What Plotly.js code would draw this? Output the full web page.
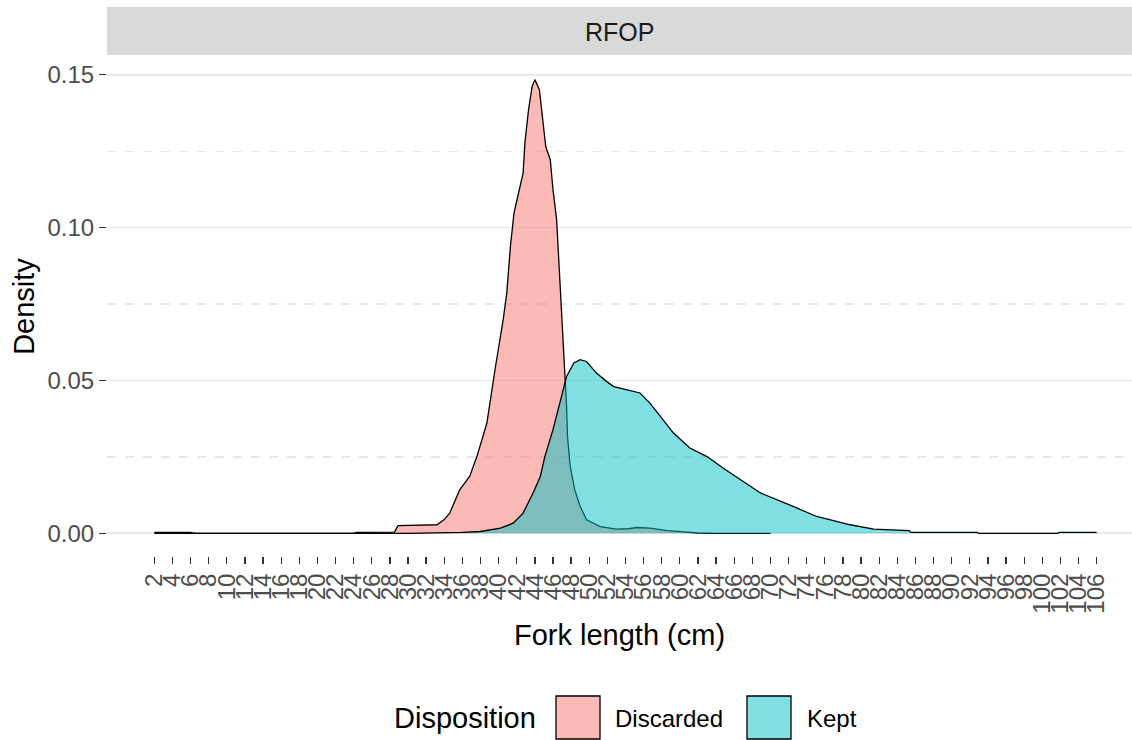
<!DOCTYPE html>
<html>
<head>
<meta charset="utf-8">
<script src="https://cdn.plot.ly/plotly-3.0.1.min.js"></script>
<style>
  html, body { margin: 0; padding: 0; background: #ffffff; overflow: hidden; }
  #chart { width: 1132px; height: 740px; }
</style>
</head>
<body>
<div id="chart"></div>
<script>
// ---- Data ----
const panelLabel = "RFOP";
const seriesNames = ["Discarded", "Kept"];

const discardedX = [2, 6, 6.5, 24, 24.3, 28.5, 28.9, 31, 33.2, 34.0, 34.6, 35.7, 36.8, 37.6, 38.7, 39.6, 40.5, 40.9, 41.3, 41.7, 42.2, 42.7, 42.9, 43.3, 43.7, 44.0, 44.5, 44.8, 45.2, 45.7, 46.0, 46.4, 46.6, 46.8, 47.0, 47.2, 47.3, 47.5, 47.6, 47.9, 48.4, 49.0, 49.7, 51.2, 53.0, 54.3, 55.3, 56.7, 58.6, 60.8, 62, 64, 70];
const discardedY = [0.0003, 0.0003, 0.0, 0.0, 0.0003, 0.0004, 0.0025, 0.0026, 0.0028, 0.0045, 0.0066, 0.0142, 0.0186, 0.0251, 0.036, 0.0535, 0.0698, 0.0786, 0.0938, 0.1048, 0.1118, 0.1178, 0.1277, 0.1385, 0.1462, 0.1484, 0.1451, 0.1364, 0.1265, 0.1222, 0.1124, 0.1026, 0.0917, 0.0807, 0.0698, 0.0568, 0.0502, 0.0415, 0.0317, 0.0219, 0.0142, 0.0088, 0.0044, 0.0022, 0.0014, 0.0015, 0.0019, 0.0017, 0.0009, 0.0003, 0.0001, 0.0, 0.0];

const keptX = [2, 30, 36, 38, 40.2, 41.6, 42.7, 43.8, 44.6, 45.1, 46.0, 46.8, 47.5, 48.3, 49.0, 49.7, 50.8, 51.9, 52.7, 54.2, 55.6, 56.7, 58.2, 59.3, 61.1, 63.0, 64.8, 66.7, 68.9, 72.5, 75.1, 78.8, 81.4, 85.3, 85.5, 92.8, 93.0, 101.7, 101.9, 106];
const keptY = [0.0, 0.0, 0.0003, 0.0006, 0.0017, 0.0033, 0.0066, 0.0132, 0.0186, 0.0251, 0.0339, 0.0437, 0.0513, 0.0557, 0.0568, 0.0562, 0.0524, 0.0497, 0.048, 0.0469, 0.0459, 0.0426, 0.0371, 0.0328, 0.0279, 0.0251, 0.0213, 0.0175, 0.0132, 0.0088, 0.0055, 0.0028, 0.0014, 0.0009, 0.0003, 0.0003, 0.0, 0.0, 0.0003, 0.0003];

const xTickVals = [];
for (let v = 2; v <= 106; v += 2) xTickVals.push(v);
const xTickText = xTickVals.map(String);
const yTickVals = [0, 0.05, 0.10, 0.15];
const yTickText = ["0.00", "0.05", "0.10", "0.15"];
const yMinorVals = [0.025, 0.075, 0.125];

// ---- Styles ----
const FONT = "Liberation Sans, Arial, Helvetica, sans-serif";
const fills = ["rgba(248,118,109,0.5)", "rgba(0,191,196,0.5)"];

// Plot area geometry (pixels)
const W = 1132, H = 740;
const L = 107, R = 1132, T = 57, B = 556;
const px2paperX = px => (px - L) / (R - L);
const px2paperY = py => (B - py) / (B - T);

const traces = [
  { x: discardedX, y: discardedY, name: seriesNames[0], type: "scatter", mode: "lines",
    fill: "tozeroy", fillcolor: fills[0], line: { color: "#000000", width: 1.3 },
    showlegend: false, hoverinfo: "x+y+name" },
  { x: keptX, y: keptY, name: seriesNames[1], type: "scatter", mode: "lines",
    fill: "tozeroy", fillcolor: fills[1], line: { color: "#000000", width: 1.3 },
    showlegend: false, hoverinfo: "x+y+name" }
];

const shapes = [
  // facet strip
  { type: "rect", xref: "paper", yref: "paper",
    x0: 0, x1: 1, y0: px2paperY(55), y1: px2paperY(7),
    fillcolor: "#D9D9D9", line: { width: 0 }, layer: "below" },
  // legend keys
  { type: "rect", xref: "paper", yref: "paper",
    x0: px2paperX(556), x1: px2paperX(600), y0: px2paperY(739), y1: px2paperY(696),
    fillcolor: fills[0], line: { color: "#000000", width: 1.3 } },
  { type: "rect", xref: "paper", yref: "paper",
    x0: px2paperX(747), x1: px2paperX(791), y0: px2paperY(739), y1: px2paperY(696),
    fillcolor: fills[1], line: { color: "#000000", width: 1.3 } }
];

const annotations = [
  { text: panelLabel, xref: "paper", yref: "paper", x: 0.5, y: px2paperY(32),
    xanchor: "center", yanchor: "middle", showarrow: false,
    font: { family: FONT, size: 25, color: "#1A1A1A" } },
  { text: "Disposition", xref: "paper", yref: "paper", x: px2paperX(392), y: px2paperY(718),
    xanchor: "left", yanchor: "middle", showarrow: false,
    font: { family: FONT, size: 29, color: "#000000" } },
  { text: seriesNames[0], xref: "paper", yref: "paper", x: px2paperX(613), y: px2paperY(718),
    xanchor: "left", yanchor: "middle", showarrow: false,
    font: { family: FONT, size: 24, color: "#000000" } },
  { text: seriesNames[1], xref: "paper", yref: "paper", x: px2paperX(805), y: px2paperY(718),
    xanchor: "left", yanchor: "middle", showarrow: false,
    font: { family: FONT, size: 24, color: "#000000" } }
];

const layout = {
  width: W, height: H,
  margin: { l: L, r: W - R, t: T, b: H - B, pad: 0 },
  paper_bgcolor: "#ffffff", plot_bgcolor: "#ffffff",
  showlegend: false,
  font: { family: FONT, color: "#4D4D4D" },
  xaxis: {
    range: [-3.22, 109.9], autorange: false,
    tickmode: "array", tickvals: xTickVals, ticktext: xTickText,
    tickangle: -90, ticks: "outside", ticklen: 7, tickwidth: 1.3, tickcolor: "#333333",
    tickfont: { family: FONT, size: 24, color: "#4D4D4D" },
    showgrid: false, zeroline: false, showline: false,
    title: { text: "Fork length (cm)", font: { family: FONT, size: 29, color: "#000000" }, standoff: 12 },
    automargin: false
  },
  yaxis: {
    range: [-0.00742, 0.1558], autorange: false,
    tickmode: "array", tickvals: yTickVals, ticktext: yTickText,
    ticks: "outside", ticklen: 7, tickwidth: 1.3, tickcolor: "#333333",
    tickfont: { family: FONT, size: 24, color: "#4D4D4D" },
    showgrid: true, gridcolor: "#E8E8E8", gridwidth: 1.7,
    minor: { tickmode: "array", tickvals: yMinorVals, showgrid: true, gridcolor: "#E8E8E8",
             gridwidth: 1.3, griddash: "dash", ticks: "" },
    zeroline: false, showline: false,
    title: { text: "Density", font: { family: FONT, size: 29, color: "#000000" }, standoff: 4 },
    automargin: false
  },
  shapes: shapes,
  annotations: annotations
};

Plotly.newPlot("chart", traces, layout, { displayModeBar: false, staticPlot: true });
</script>
</body>
</html>
